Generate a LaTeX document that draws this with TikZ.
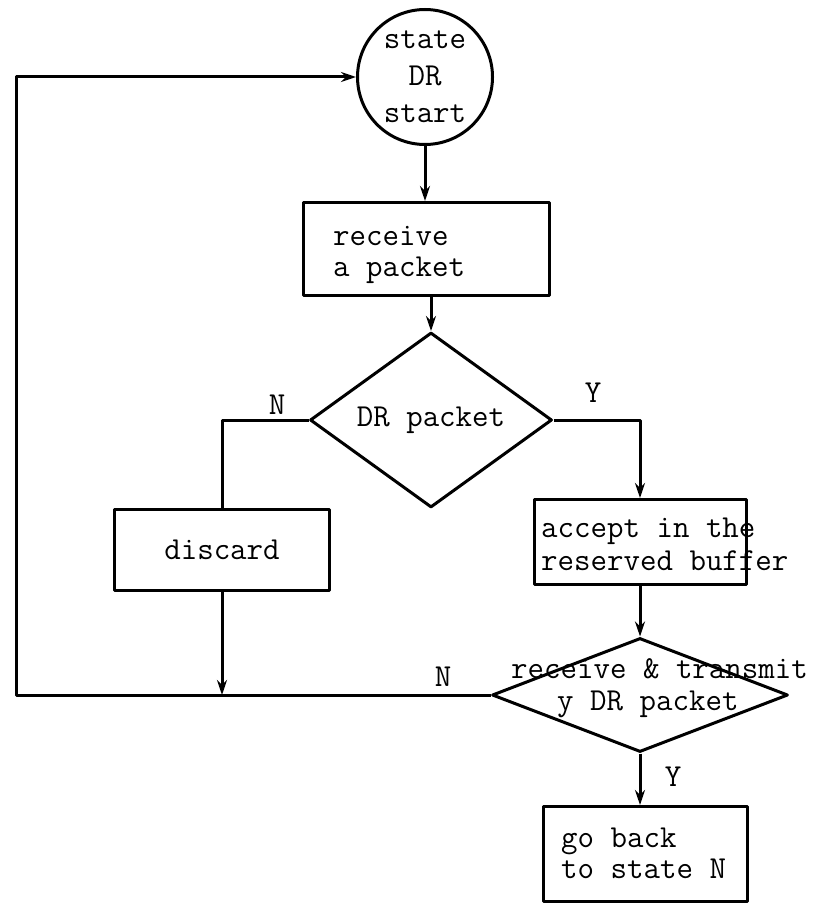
\documentclass[tikz,border=0pt]{standalone}
\usepackage{fontspec}
\newfontfamily\tw{Latin Modern Mono}
\usetikzlibrary{shapes.geometric,arrows.meta}
\begin{document}
\begin{tikzpicture}[x=1pt,y=-1pt,
  every node/.style={font=\tw\fontsize{32}{33}\selectfont},
  ln/.style={line width=3pt, line join=round},
  arr/.style={ln, -{Stealth[length=15pt,width=10pt]}},
  boxn/.style={draw, ln, rectangle, inner sep=0pt},
  dia/.style={draw, ln, diamond, inner sep=0pt},
  lbl/.style={inner sep=0pt}]
\useasboundingbox (0,0) rectangle (824,904);

\node[draw, ln, circle, minimum size=135pt, inner sep=0pt, align=center,
      font=\tw\fontsize{32}{37}\selectfont] (startc) at (425,77) {state\\DR\\start};

\node[boxn, minimum width=246pt, minimum height=93pt] (recv) at (426,249) {};
\node[lbl, anchor=west, align=left, font=\tw\fontsize{32}{31}\selectfont] (recvt) at (333,255) {receive\\a packet};

\node[dia, minimum width=242pt, minimum height=130pt] (d1) at (431,420) {DR packet};
\node[lbl] (n1) at (277,405) {N};
\node[lbl] (y1) at (593,393) {Y};

\node[boxn, minimum width=215pt, minimum height=81pt] (disc) at (222,550) {discard};

\node[boxn, minimum width=212pt, minimum height=85pt] (acc) at (640,542) {};
\node[lbl, anchor=west, align=left] (acct) at (541,544) {accept in the\\reserved buffer};

\node[dia, minimum width=296pt, minimum height=114pt] (d2) at (640,695) {};
\node[lbl, anchor=west] (d2a) at (511,669) {receive \& transmit};
\node[lbl, anchor=west] (d2b) at (557,704) {y DR packet};
\node[lbl] (n2) at (443,677) {N};
\node[lbl] (y2) at (673,777) {Y};

\node[boxn, minimum width=204pt, minimum height=95pt] (back) at (645,854) {};
\node[lbl, anchor=west, align=left, font=\tw\fontsize{32}{31}\selectfont] (backt) at (561,853) {go back\\to state N};

\coordinate (cl) at (16,695);

\draw[arr] (startc.south) -- (startc.south |- recv.north);
\draw[arr] (recv.south -| d1.north) -- (d1.north);
\draw[ln] (d1.west) -| (disc.north);
\draw[arr] (d1.east) -| (acc.north);
\draw[arr] (disc.south) -- (disc.south |- d2.west);
\draw[arr] (acc.south) -- (d2.north);
\draw[arr] (d2.south) -- (d2.south |- back.north);
\draw[arr] (d2.west) -- (cl) |- (startc.west);
\end{tikzpicture}
\end{document}
